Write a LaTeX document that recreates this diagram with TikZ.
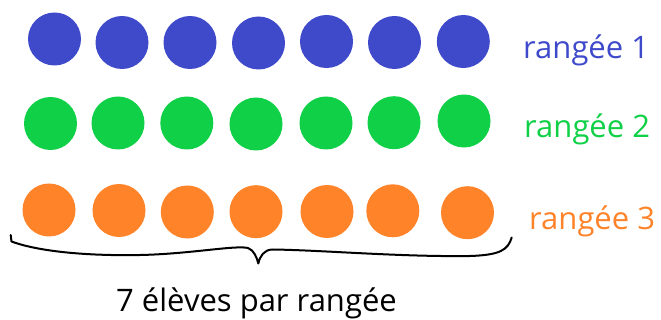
\documentclass[tikz,border=0pt]{standalone}
\usepackage{fontspec}
\setmainfont{Open Sans}
\definecolor{cblue}{RGB}{63,74,203}
\definecolor{cgreen}{RGB}{16,208,72}
\definecolor{corange}{RGB}{255,131,41}
\begin{document}
\begin{tikzpicture}[x=1pt,y=-1pt,
  dot/.style={circle,inner sep=0pt,minimum size=53pt,draw=none},
  lbl/.style={anchor=base west,inner sep=0pt,font=\fontsize{31}{37}\selectfont}]
\useasboundingbox (0,0) rectangle (661,320);
\foreach \x/\y [count=\i] in {54.5/39,122/42.5,190/42.5,258.5/43,326.5/41.5,394.5/42.5,463.3/41.5}
  \node[dot,fill=cblue] (b\i) at (\x,\y) {};
\foreach \x/\y [count=\i] in {50.5/123.5,118/123,186.8/123,256/124,326/123,394/122.7,464/121}
  \node[dot,fill=cgreen] (g\i) at (\x,\y) {};
\foreach \x/\y [count=\i] in {49/210,119/210.5,187.3/212,256/211.7,327/211.5,392.8/210.8,467.5/212.7}
  \node[dot,fill=corange] (o\i) at (\x,\y) {};
\node[lbl,text=cblue] (l1) at (523,59) {rangée 1};
\node[lbl,text=cgreen] (l2) at (524,138) {rangée 2};
\node[lbl,text=corange] (l3) at (529,230) {rangée 3};
\node[anchor=base,inner sep=0pt,font=\fontsize{31}{37}\selectfont] (cap) at (256.5,312) {7 élèves par rangée};
\draw[line width=2pt,line cap=round,line join=round]
  (10.7,235) -- (11.5,241.5)
  .. controls (40,252) and (90,256) .. (140,255)
  .. controls (190,254) and (235,245) .. (248,248)
  .. controls (254,250) and (257,258) .. (258.3,263.5)
  .. controls (260,256) and (264,250) .. (272,249.5)
  .. controls (320,250) and (400,257) .. (470,256)
  .. controls (500,255) and (508,250) .. (511.7,237.5);
\end{tikzpicture}
\end{document}
